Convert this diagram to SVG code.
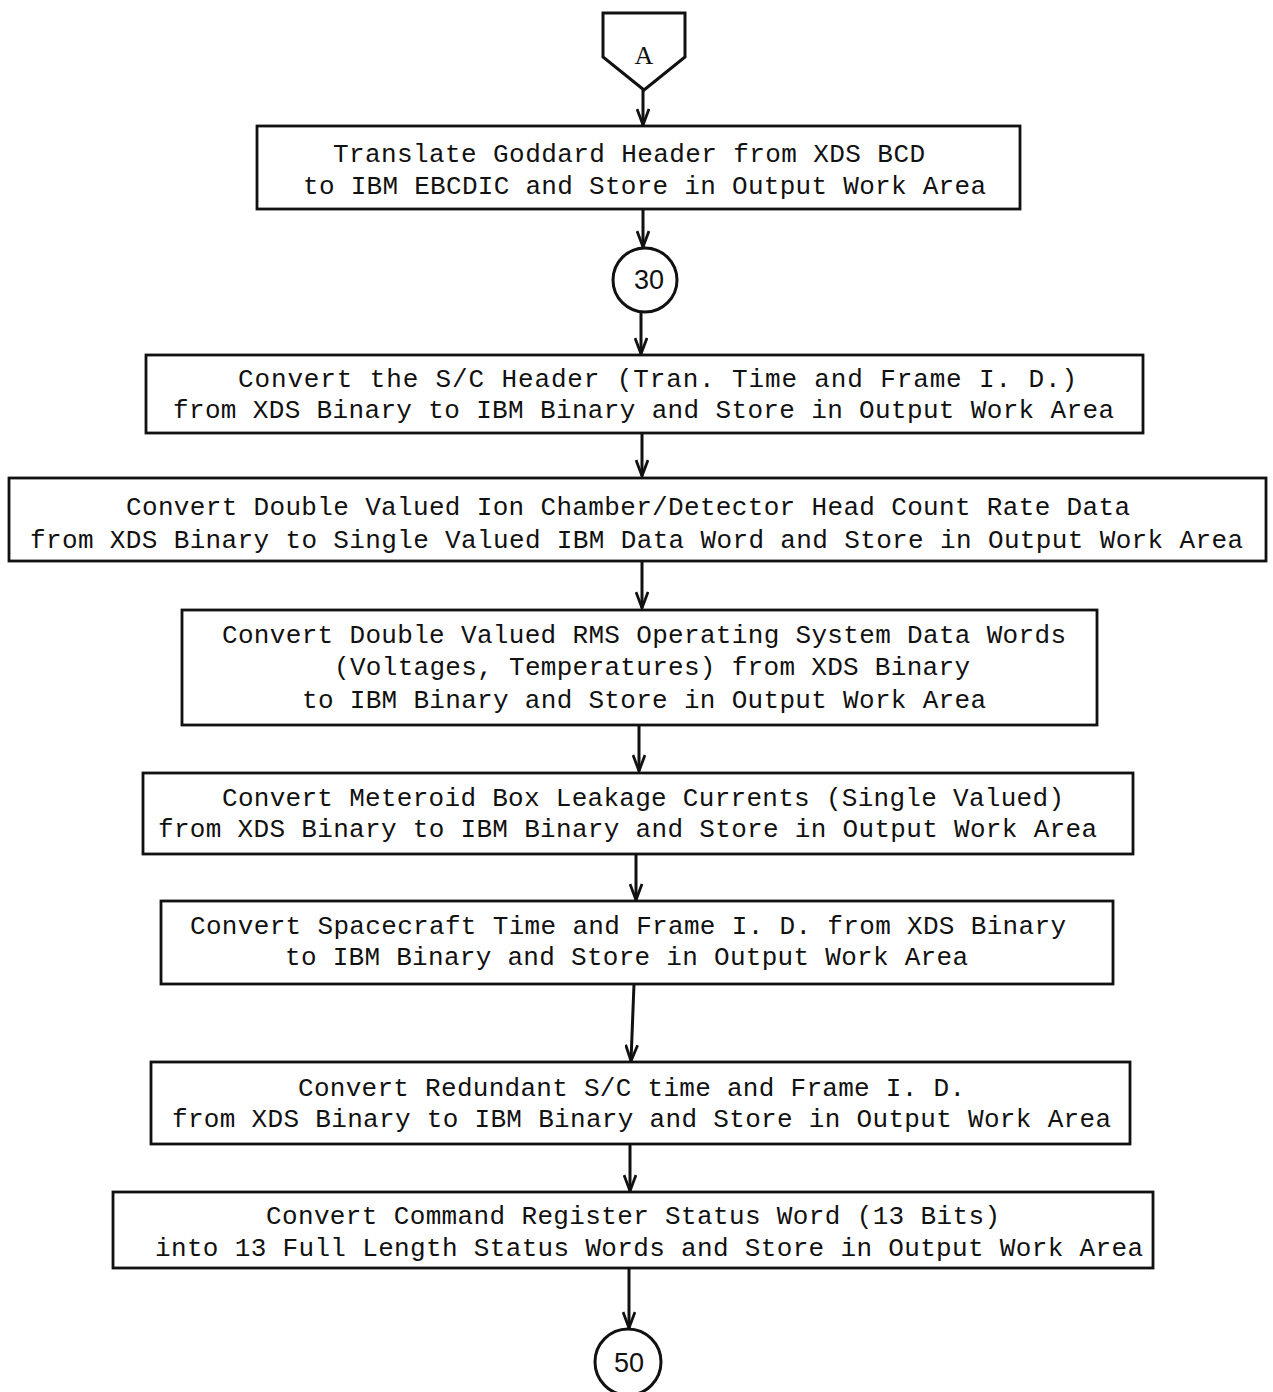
<svg xmlns="http://www.w3.org/2000/svg" width="1273" height="1392" viewBox="0 0 1273 1392">
  <style>
    .box { fill: #ffffff; stroke: #111111; stroke-width: 2.8; }
    .term { fill: #ffffff; stroke: #111111; stroke-width: 3; }
    .flow { fill: none; stroke: #111111; stroke-width: 3; }
    .lbl { font-family: "Liberation Mono", "DejaVu Sans Mono", monospace; font-size: 26px; fill: #111111; }
    .ltr { font-family: "Liberation Serif", "DejaVu Serif", serif; font-size: 26px; fill: #111111; text-anchor: middle; }
    .num { font-family: "Liberation Sans", "DejaVu Sans", sans-serif; font-size: 27px; fill: #111111; text-anchor: middle; }
  </style>
  <defs>
    <!-- open V arrowhead, drawn pointing along +x -->
    <marker id="vee" viewBox="0 0 18 14" refX="17" refY="7" markerWidth="18" markerHeight="14" markerUnits="userSpaceOnUse" orient="auto">
      <path d="M1,1 L17,7 L1,13" fill="none" stroke="#111111" stroke-width="2.8"/>
    </marker>
  </defs>
  <rect width="1273" height="1392" fill="#ffffff"/>

  <!-- connectors -->
  <g id="connectors">
    <path class="flow" d="M643,90 V125" marker-end="url(#vee)"/>
    <path class="flow" d="M643,209 V247" marker-end="url(#vee)"/>
    <path class="flow" d="M641,312 V354" marker-end="url(#vee)"/>
    <path class="flow" d="M642,433 V476" marker-end="url(#vee)"/>
    <path class="flow" d="M642,561 V608" marker-end="url(#vee)"/>
    <path class="flow" d="M639,725 V771" marker-end="url(#vee)"/>
    <path class="flow" d="M636,854 V900" marker-end="url(#vee)"/>
    <path class="flow" d="M634,984 L631,1061" marker-end="url(#vee)"/>
    <path class="flow" d="M630,1144 V1191" marker-end="url(#vee)"/>
    <path class="flow" d="M629,1268 V1328" marker-end="url(#vee)"/>
  </g>

  <!-- off-page connector A -->
  <g id="node-a">
    <path class="term" d="M603,13 H685 V57 L644,90 L603,57 Z"/>
    <text class="ltr" x="644" y="64">A</text>
  </g>

  <g id="node-translate-header">
    <rect class="box" x="257" y="126" width="763" height="83"/>
    <text class="lbl" x="333" y="162" textLength="592">Translate Goddard Header from XDS BCD</text>
    <text class="lbl" x="303" y="194" textLength="683">to IBM EBCDIC and Store in Output Work Area</text>
  </g>

  <!-- on-page connector 30 -->
  <g id="node-30">
    <circle class="term" cx="645" cy="280" r="32"/>
    <text class="num" x="649" y="289">30</text>
  </g>

  <g id="node-sc-header">
    <rect class="box" x="146" y="355" width="997" height="78"/>
    <text class="lbl" x="238" y="387" textLength="839">Convert the S/C Header (Tran. Time and Frame I. D.)</text>
    <text class="lbl" x="173" y="418" textLength="941">from XDS Binary to IBM Binary and Store in Output Work Area</text>
  </g>

  <g id="node-ion-chamber">
    <rect class="box" x="9" y="478" width="1257" height="83"/>
    <text class="lbl" x="126" y="515" textLength="1004">Convert Double Valued Ion Chamber/Detector Head Count Rate Data</text>
    <text class="lbl" x="30" y="548" textLength="1213">from XDS Binary to Single Valued IBM Data Word and Store in Output Work Area</text>
  </g>

  <g id="node-rms-data">
    <rect class="box" x="182" y="610" width="915" height="115"/>
    <text class="lbl" x="222" y="643" textLength="844">Convert Double Valued RMS Operating System Data Words</text>
    <text class="lbl" x="334" y="675" textLength="636">(Voltages, Temperatures) from XDS Binary</text>
    <text class="lbl" x="302" y="708" textLength="684">to IBM Binary and Store in Output Work Area</text>
  </g>

  <g id="node-leakage">
    <rect class="box" x="143" y="773" width="990" height="81"/>
    <text class="lbl" x="222" y="806" textLength="842">Convert Meteroid Box Leakage Currents (Single Valued)</text>
    <text class="lbl" x="158" y="837" textLength="939">from XDS Binary to IBM Binary and Store in Output Work Area</text>
  </g>

  <g id="node-sc-time">
    <rect class="box" x="161" y="901" width="952" height="83"/>
    <text class="lbl" x="190" y="934" textLength="876">Convert Spacecraft Time and Frame I. D. from XDS Binary</text>
    <text class="lbl" x="285" y="965" textLength="683">to IBM Binary and Store in Output Work Area</text>
  </g>

  <g id="node-redundant">
    <rect class="box" x="151" y="1062" width="979" height="82"/>
    <text class="lbl" x="298" y="1096" textLength="667">Convert Redundant S/C time and Frame I. D.</text>
    <text class="lbl" x="172" y="1127" textLength="939">from XDS Binary to IBM Binary and Store in Output Work Area</text>
  </g>

  <g id="node-command-register">
    <rect class="box" x="113" y="1192" width="1040" height="76"/>
    <text class="lbl" x="266" y="1224" textLength="734">Convert Command Register Status Word (13 Bits)</text>
    <text class="lbl" x="155" y="1256" textLength="988">into 13 Full Length Status Words and Store in Output Work Area</text>
  </g>

  <!-- on-page connector 50 -->
  <g id="node-50">
    <circle class="term" cx="628" cy="1362" r="33"/>
    <text class="num" x="629" y="1372">50</text>
  </g>
</svg>
